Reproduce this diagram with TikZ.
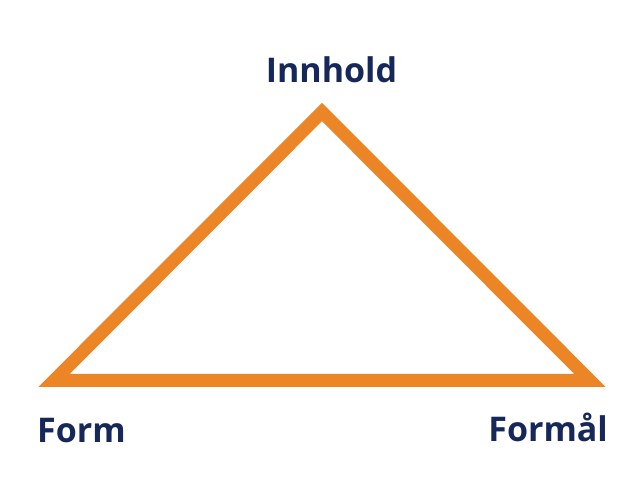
\documentclass[tikz,border=0pt]{standalone}
\usepackage{fontspec}
\setmainfont{Open Sans}
\definecolor{triorange}{HTML}{EB8526}
\definecolor{labelblue}{HTML}{16285A}
\tikzset{
  lbl/.style={inner sep=0pt, text=labelblue, font=\fontsize{34}{34}\selectfont\bfseries},
  tri/.style={draw=triorange, line width=13pt, line join=miter, miter limit=10}
}
\begin{document}
\begin{tikzpicture}[x=1pt,y=-1pt]
\useasboundingbox[fill=white] (0,0) rectangle (635,502);
\coordinate (A) at (322,112);
\coordinate (B) at (54,380.5);
\coordinate (C) at (590,380.5);
\draw[tri] (A) -- (B) -- (C) -- cycle;
\node[lbl, anchor=base] (innhold) at (331.5,83) {Innhold};
\node[lbl, anchor=base west] (form) at (37,443) {Form};
\node[lbl, anchor=base east] (formal) at (608,442) {Formål};
\end{tikzpicture}
\end{document}
